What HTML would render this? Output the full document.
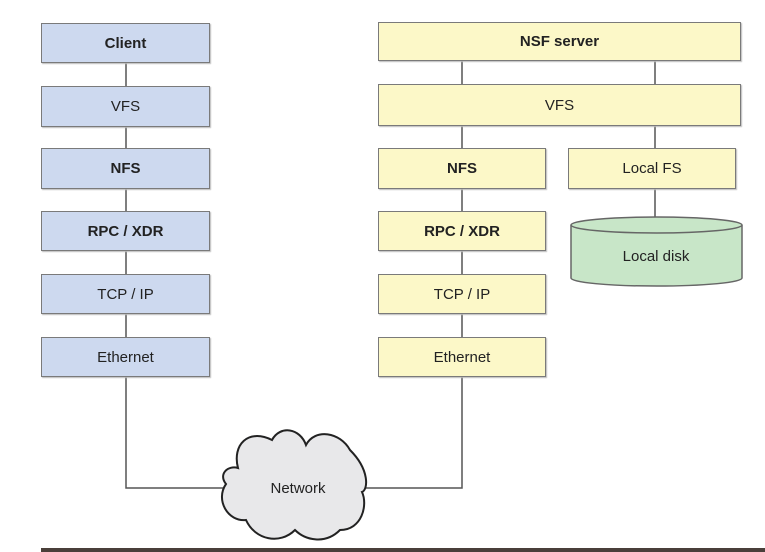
<!DOCTYPE html>
<html><head><style>
body{margin:0;width:765px;height:552px;background:#fff;position:relative;overflow:hidden;font-family:"Liberation Sans",sans-serif}
.b{position:absolute;box-sizing:border-box;border:1.5px solid #7a7a7a;display:flex;align-items:center;justify-content:center;font-size:15px;color:#222;box-shadow:1px 1px 1px #bbb}
.c{background:#cdd9ef}.s{background:#fcf8c8}
.bold{font-weight:bold}
</style></head><body>
<svg width="765" height="552" style="position:absolute;left:0;top:0">
<g stroke="#555" stroke-width="1.5" fill="none">
<line x1="126" y1="40" x2="126" y2="377"/>
<polyline points="126,377 126,488 230,488"/>
<polyline points="462,377 462,488 360,488"/>
<line x1="462" y1="40" x2="462" y2="377"/>
<line x1="655" y1="40" x2="655" y2="220"/>
</g>
<path d="M238,468 C232,445 248,428 272,440 C280,425 300,428 306,445 C315,428 340,432 350,450 C370,470 368,490 362,492 C368,505 362,530 340,530 C325,545 305,540 295,530 C280,545 255,540 246,520 C228,522 215,500 226,484 C218,474 228,465 238,468 Z" fill="#e8e8ea" stroke="#222" stroke-width="2"/>
<text x="298" y="493" font-size="15" text-anchor="middle" fill="#222" font-family="Liberation Sans">Network</text>
<path d="M571,225 L571,278 A85,8 0 0 0 742,278 L742,225" fill="#c8e6c8" stroke="#666" stroke-width="1.5"/>
<ellipse cx="656.5" cy="225" rx="85.5" ry="8" fill="#c8e6c8" stroke="#666" stroke-width="1.5"/>
<text x="656" y="261" font-size="15" text-anchor="middle" fill="#222" font-family="Liberation Sans">Local disk</text>
<rect x="41" y="548" width="724" height="4" fill="#4a3f3a"/>
</svg>
<div class="b c bold" style="left:41px;top:23px;width:169px;height:40px">Client</div>
<div class="b c" style="left:41px;top:86px;width:169px;height:41px">VFS</div>
<div class="b c bold" style="left:41px;top:148px;width:169px;height:41px">NFS</div>
<div class="b c bold" style="left:41px;top:211px;width:169px;height:40px">RPC / XDR</div>
<div class="b c" style="left:41px;top:274px;width:169px;height:40px">TCP / IP</div>
<div class="b c" style="left:41px;top:337px;width:169px;height:40px">Ethernet</div>
<div class="b s bold" style="left:378px;top:22px;width:363px;height:39px">NSF server</div>
<div class="b s" style="left:378px;top:84px;width:363px;height:42px">VFS</div>
<div class="b s bold" style="left:378px;top:148px;width:168px;height:41px">NFS</div>
<div class="b s" style="left:568px;top:148px;width:168px;height:41px">Local FS</div>
<div class="b s bold" style="left:378px;top:211px;width:168px;height:40px">RPC / XDR</div>
<div class="b s" style="left:378px;top:274px;width:168px;height:40px">TCP / IP</div>
<div class="b s" style="left:378px;top:337px;width:168px;height:40px">Ethernet</div>
</body></html>
